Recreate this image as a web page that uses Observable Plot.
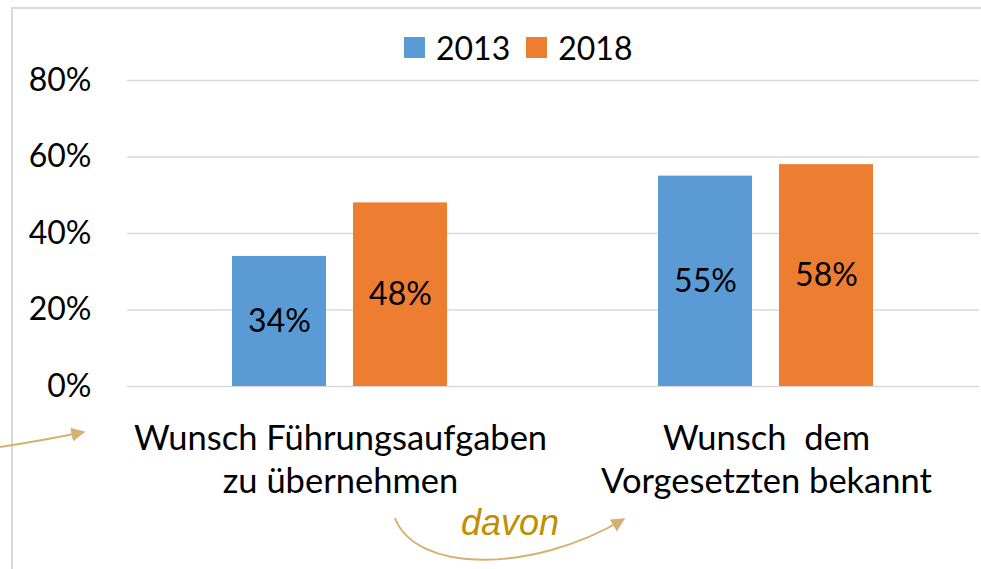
<!DOCTYPE html>
<html>
<head>
<meta charset="utf-8">
<script src="https://cdn.jsdelivr.net/npm/d3@7"></script>
<script src="https://cdn.jsdelivr.net/npm/@observablehq/plot@0.6"></script>
<style>
  html, body { margin: 0; padding: 0; background: #fff; }
  #wrap { position: relative; width: 981px; height: 569px; overflow: hidden; font-family: Lato, "Open Sans", sans-serif; }
  #wrap svg text { white-space: pre; }
  #frame { position: absolute; left: 11px; top: 7px; width: 968px; height: 580px; border-left: 2px solid #d9d9d9; border-top: 2px solid #d9d9d9; }
  #legend { position: absolute; top: 28px; left: 404px; display: flex; align-items: center; font-size: 32px; color: #000; }
  #legend .item { display: flex; align-items: center; margin-right: 16px; }
  #legend .sw { width: 21px; height: 21px; margin-right: 11px; }
  #plot { position: absolute; left: 0; top: 0; }
  #deco { position: absolute; left: 0; top: 0; pointer-events: none; }
</style>
</head>
<body>
<div id="wrap">
  <div id="frame"></div>
  <div id="plot"></div>
  <div id="legend"></div>
</div>
<script>
const categories = ["Wunsch Führungsaufgaben\nzu übernehmen", "Wunsch  dem\nVorgesetzten bekannt"];
const years = ["2013", "2018"];
const values2013 = [34, 55];
const values2018 = [48, 58];
const yTicks = [0, 20, 40, 60, 80];
const colors = ["#5B9BD5", "#ED7D31"];
const annotation = "davon";

const data = categories.flatMap((c, i) => [
  {cat: c, year: years[0], v: values2013[i]},
  {cat: c, year: years[1], v: values2018[i]}
]);

const chart = Plot.plot({
  width: 981,
  height: 569,
  marginLeft: 126,
  marginRight: 2,
  marginTop: 80,
  marginBottom: 183,
  style: {fontFamily: "Lato, 'Open Sans', sans-serif", fontSize: "32px", color: "#000", background: "transparent", overflow: "visible"},
  fx: {domain: categories, padding: 0, label: null, axis: null},
  x: {domain: years, paddingInner: 0.221, paddingOuter: 0.858, axis: null},
  y: {domain: [0, 80], axis: null},
  color: {domain: years, range: colors},
  marks: [
    Plot.gridY(yTicks, {stroke: "#d9d9d9", strokeOpacity: 1, strokeWidth: 1.5}),
    Plot.barY(data, {fx: "cat", x: "year", y: "v", fill: "year"}),
    Plot.text(data, {fx: "cat", x: "year", y: d => d.v / 2, text: d => d.v + "%", fontSize: 32, fill: "#000"}),
    Plot.axisY(yTicks, {tickSize: 0, tickPadding: 36, tickFormat: d => d + "%", fontSize: 32, label: null, fill: "#000"}),
    Plot.axisFx({anchor: "bottom", tickSize: 0, tickPadding: 33, fontSize: 34.5, lineHeight: 1.25, label: null, fill: "#000"})
  ]
});
document.getElementById("plot").appendChild(chart);

// legend
const legend = d3.select("#legend");
years.forEach((y, i) => {
  const it = legend.append("div").attr("class", "item");
  it.append("div").attr("class", "sw").style("background", colors[i]);
  it.append("span").text(y);
});

// decorative arrows and annotation
const deco = d3.select("#wrap").append("svg").attr("id", "deco").attr("width", 981).attr("height", 569);
const defs = deco.append("defs");
defs.append("marker").attr("id", "ah").attr("viewBox", "0 0 10 10").attr("refX", 9).attr("refY", 5)
  .attr("markerWidth", 7).attr("markerHeight", 7).attr("orient", "auto")
  .append("path").attr("d", "M0,0 L10,5 L0,10 Z").attr("fill", "#D6B06F");
deco.append("path").attr("d", "M0,447 Q40,441 84,432").attr("fill", "none")
  .attr("stroke", "#D6B06F").attr("stroke-width", 2).attr("marker-end", "url(#ah)");
deco.append("path").attr("d", "M395,518 C415,572 530,575 624,519").attr("fill", "none")
  .attr("stroke", "#D6B06F").attr("stroke-width", 2).attr("marker-end", "url(#ah)");
deco.append("text").attr("x", 510).attr("y", 535).attr("text-anchor", "middle")
  .attr("font-family", "'Liberation Sans', Arial, sans-serif").attr("font-style", "italic")
  .attr("font-size", 36).attr("fill", "#BF8F00").text(annotation);
</script>
</body>
</html>
